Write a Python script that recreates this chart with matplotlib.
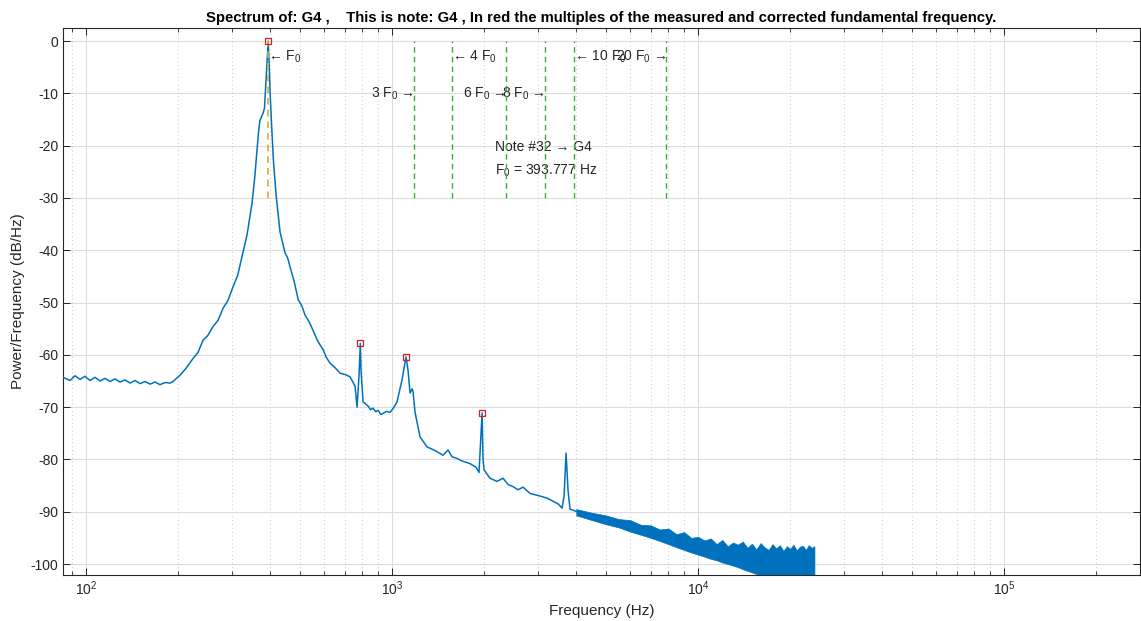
import matplotlib
matplotlib.use("Agg")
import matplotlib.pyplot as plt
import numpy as np

plt.rcParams['font.family'] = ['Liberation Sans', 'DejaVu Sans']
plt.rcParams['mathtext.fontset'] = 'custom'
plt.rcParams['mathtext.rm'] = 'Liberation Sans'
plt.rcParams['mathtext.it'] = 'Liberation Sans:italic'
plt.rcParams['axes.unicode_minus'] = False

# spectrum (Hz, dB/Hz)
spec_f = [84.1, 88.7, 92.0, 95.6, 99.2, 103.1, 107.0, 111.1, 115.4, 119.8,
          124.4, 129.2, 134.1, 139.3, 144.6, 150.2, 155.9, 161.9, 168.1, 174.5,
          181.3, 188.2, 192.4, 202.9, 212.0, 223.7, 232.0, 241.2, 250.0, 260.0,
          270.0, 280.4, 291.0, 302.2, 313.0, 323.4, 336.0, 348.7, 356.0, 362.1,
          366.0, 370.3, 374.0, 378.8, 383.0, 387.0, 391.0, 393.8, 397.0, 399.4,
          404.0, 409.4, 418.0, 430.5, 447.0, 456.0, 464.2, 478.0, 494.0, 507.0,
          519.6, 535.0, 551.8, 572.0, 595.1, 610.0, 627.3, 650.0, 676.2, 705.0,
          729.1, 757.0, 768.5, 780.0, 787.6, 792.0, 804.0, 820.0, 834.9, 850.0,
          866.9, 885.0, 900.0, 918.0, 934.6, 960.0, 985.0, 1010.0, 1038.0, 1078.0,
          1094.5, 1111.0, 1128.0, 1145.0, 1163.0, 1171.0, 1189.0, 1234.5, 1301.0, 1382.0,
          1468.0, 1524.0, 1571.0, 1630.0, 1693.0, 1798.0, 1881.0, 1924.0, 1969.0, 1983.0,
          1998.0, 2090.0, 2203.0, 2305.0, 2394.0, 2485.0, 2581.0, 2680.0, 2825.0, 3046.0,
          3210.0, 3359.0, 3488.0, 3594.0, 3649.0, 3704.0, 3760.0, 3816.0, 4024.0, 4677.0,
          5276.0, 5996.0, 6813.0, 7685.0, 8736.0, 9924.0, 11364.0, 12725.0, 14245.0, 15947.0,
          17853.0, 19985.0, 22374.0, 24000.0]
spec_db = [-64.3, -64.9, -64.0, -64.7, -64.1, -64.9, -64.3, -65.0, -64.5, -65.1,
           -64.6, -65.2, -64.8, -65.4, -64.9, -65.5, -65.1, -65.6, -65.2, -65.7,
           -65.3, -65.4, -65.1, -63.9, -62.6, -60.7, -59.6, -57.2, -56.3, -54.6,
           -53.4, -51.1, -49.6, -47.0, -44.8, -41.2, -37.0, -31.0, -26.0, -20.8,
           -17.5, -15.1, -14.6, -13.8, -12.8, -8.0, -3.0, 0.0, -5.0, -9.7,
           -16.0, -22.6, -29.5, -36.5, -40.5, -41.5, -43.2, -45.8, -49.5, -50.6,
           -52.4, -53.6, -55.3, -57.4, -59.0, -60.5, -61.6, -62.4, -63.5, -63.8,
           -64.2, -66.0, -70.0, -64.0, -57.8, -63.0, -69.0, -69.4, -69.8, -70.5,
           -70.2, -70.9, -70.6, -71.4, -71.2, -70.8, -71.0, -70.2, -69.0, -64.8,
           -62.5, -60.4, -63.0, -67.3, -66.5, -67.0, -71.0, -75.7, -77.6, -78.3,
           -79.2, -78.2, -79.5, -79.8, -80.3, -80.8, -81.5, -82.5, -71.1, -80.0,
           -82.0, -83.6, -84.2, -83.6, -84.8, -85.2, -85.8, -85.3, -86.5, -87.0,
           -87.4, -88.0, -88.5, -89.3, -87.0, -78.8, -86.0, -89.5, -90.0, -91.2,
           -92.2, -93.1, -94.1, -95.0, -96.0, -97.0, -97.8, -98.7, -99.5, -100.5,
           -101.3, -102.0, -102.5, -103.0]

# noisy band at the high end: upper and lower edges
band_f = [4000, 4500, 5000, 5500, 6000, 6500, 7000, 7500, 8000, 8500,
          9000, 9500, 10000, 10500, 11000, 11500, 12000, 12500, 13000, 13500,
          14000, 14500, 15000, 15500, 16000, 16500, 17000, 17500, 18000, 18500,
          19000, 19500, 20000, 20500, 21000, 21500, 22000, 22500, 23000, 23500, 24000]
band_hi = [-89.5, -90.2, -90.7, -91.4, -91.6, -92.5, -92.6, -93.4, -93.2, -94.3,
           -93.9, -95.0, -94.8, -95.5, -95.1, -96.2, -95.4, -96.6, -95.9, -96.3,
           -95.7, -96.9, -96.1, -97.2, -96.0, -96.8, -97.3, -96.2, -97.0, -96.4,
           -97.5, -96.6, -97.1, -96.3, -97.4, -96.7, -96.5, -97.3, -96.4, -96.9, -96.6]
band_lo = [-90.7, -91.6, -92.4, -93.0, -93.8, -94.4, -95.0, -95.6, -96.2, -96.8,
           -97.3, -97.8, -98.2, -98.6, -99.0, -99.3, -99.7, -100.0, -100.3, -100.6,
           -101.0, -101.3, -101.6, -101.9, -102.2, -102.5, -102.8, -103, -103, -103,
           -103, -103, -103, -103, -103, -103, -103, -103, -103, -103, -103]

F0 = 393.777
harmonics = [3, 4, 6, 8, 10, 20]
peak_f = [393.777, 787.6, 1111.0, 1969.0]
peak_db = [0.0, -57.8, -60.4, -71.1]

title = ("Spectrum of: G4 ,    This is note: G4 , In red the multiples of the "
         "measured and corrected fundamental frequency.")

blue = '#0072BD'
txt = '#262626'

fig = plt.figure(figsize=(11.41, 6.21), dpi=100)
ax = fig.add_axes([63 / 1141, 46 / 621, 1077 / 1141, 547 / 621])

ax.fill_between(band_f, band_lo, band_hi, color=blue, lw=0.5, zorder=2)
ax.plot(spec_f, spec_db, color=blue, lw=1.1, zorder=3)

ax.vlines(F0, -30, 0, colors='#D9AE2E', linestyles=(0, (4, 3)), lw=1.2, zorder=4)
for k in harmonics:
    ax.vlines(k * F0, -30, 0, colors='#3BAA3B', linestyles=(0, (4, 3)), lw=1.0, zorder=4)

ax.plot(peak_f, peak_db, 's', ms=5, mfc='none', mec='#D42020', mew=0.9, zorder=5)

fs = 10
ax.text(F0, -3, '← F$_0$', ha='left', va='center', fontsize=fs, color=txt)
ax.text(3 * F0, -10, '3 F$_0$ →', ha='right', va='center', fontsize=fs, color=txt)
ax.text(4 * F0, -3, '← 4 F$_0$', ha='left', va='center', fontsize=fs, color=txt)
ax.text(6 * F0, -10, '6 F$_0$ →', ha='right', va='center', fontsize=fs, color=txt)
ax.text(8 * F0, -10, '8 F$_0$ →', ha='right', va='center', fontsize=fs, color=txt)
ax.text(10 * F0, -3, '← 10 F$_0$', ha='left', va='center', fontsize=fs, color=txt)
ax.text(20 * F0, -3, '20 F$_0$ →', ha='right', va='center', fontsize=fs, color=txt)
ax.text(2170, -20.3, 'Note #32 → G4', ha='left', va='center', fontsize=fs, color=txt)
ax.text(2170, -24.8, 'F$_0$ = %.3f Hz' % F0, ha='left', va='center', fontsize=fs, color=txt)

ax.set_xscale('log')
ax.set_xlim(84.1, 278000)
ax.set_ylim(-102.1, 2.5)
ax.set_yticks(np.arange(-100, 1, 10))

ax.grid(which='major', color='#dcdcdc', lw=0.8)
ax.grid(which='minor', axis='x', color='#c8c8c8', lw=0.7, linestyle=(0, (1, 3)))
ax.tick_params(which='both', direction='in', top=True, right=True, colors=txt,
               labelsize=10)
ax.tick_params(which='major', length=5, width=0.7)
ax.tick_params(which='minor', length=3, width=0.6)
for s in ax.spines.values():
    s.set_color(txt)
    s.set_linewidth(0.8)

ax.set_xlabel('Frequency (Hz)', fontsize=11, color=txt)
ax.set_ylabel('Power/Frequency (dB/Hz)', fontsize=11, color=txt)
ax.set_title(title, fontsize=10.7, fontweight='bold', pad=4)

fig.savefig('out.png', dpi=100)
